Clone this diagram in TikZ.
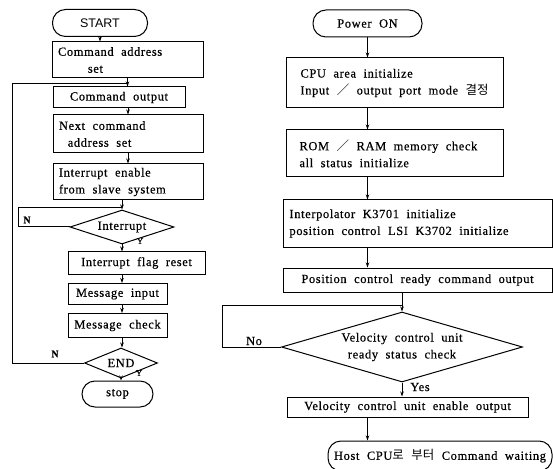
\documentclass[tikz,border=0pt]{standalone}
\usepackage{fontspec}
\setmainfont{Liberation Serif}[LetterSpace=5, FakeBold=0.5]
\newfontfamily\krfont{Noto Sans CJK KR}
\newfontfamily\capfont{Liberation Sans}
\newcommand\widesp{\spaceskip=7.5bp plus 1bp\relax}
\usetikzlibrary{arrows.meta,positioning,shapes.geometric}

\begin{document}
\begin{tikzpicture}[x=1bp, y=-1bp, line width=1bp,
    font=\fontsize{12.5}{17}\selectfont\widesp]
    \tikzset{procbox/.style={rectangle, draw, align=left, inner sep=2bp,
        execute at begin node=\widesp},
      termbox/.style={rectangle, rounded corners=13bp, draw, inner sep=2bp},
      decision/.style={diamond, draw, align=center, inner sep=0pt, shape aspect=3},
      flowline/.style={-{Stealth[length=5bp, width=3.5bp]}},
      flag/.style={inner sep=1bp}}
    \useasboundingbox (0,0) rectangle (553,469);

    % Left chart: command loop
    \node[termbox, minimum width=95bp, minimum height=27bp, font=\capfont\fontsize{12.5}{14}\selectfont]
      (start) at (100,23) {START};
    \node[procbox, minimum width=151bp, minimum height=36bp, text width=139bp] (cmdset) at (127.5,60)
      {Command address\\\hspace{2.4em}set};
    \node[procbox, minimum width=132bp, minimum height=21bp] (cmdout) at (119,97.5) {Command output};
    \node[procbox, minimum width=150bp, minimum height=38bp, text width=138bp] (nextcmd) at (128,134)
      {Next command\\\hspace{0.7em}address set};
    \node[procbox, minimum width=150bp, minimum height=36bp, text width=138bp] (intena) at (128,182)
      {Interrupt enable\\from slave system};
    \node[decision, minimum width=104bp, minimum height=34bp] (intdec) at (122,227) {Interrupt};
    \node[procbox, minimum width=137bp, minimum height=22bp] (flagrst) at (136.5,263) {Interrupt flag reset};
    \node[procbox, minimum width=99bp, minimum height=21bp] (msgin) at (117.5,294) {Message input};
    \node[procbox, minimum width=99bp, minimum height=24bp] (msgchk) at (117.5,325.5) {Message check};
    \node[decision, minimum width=73bp, minimum height=30bp] (enddec) at (121,363) {END};
    \node[termbox, minimum width=71bp, minimum height=26bp] (stop) at (117.5,394) {stop};

    \coordinate (mainloop) at (12,84);
    \coordinate (intloop) at (18,208);

    \draw[flowline] (start.south) -- (start.south |- cmdset.north);
    \draw[flowline] (cmdset.south) -- (cmdset.south |- cmdout.north);
    \draw[flowline] (nextcmd.south |- cmdout.south) -- (nextcmd.north);
    \draw[flowline] (nextcmd.south) -- (intena.north);
    \draw[flowline] (intdec.north |- intena.south) -- (intdec.north);
    \draw[flowline] (intdec.south) -- (intdec.south |- flagrst.north);
    \draw[flowline] (intdec.south |- flagrst.south) -- (intdec.south |- msgin.north);
    \draw[flowline] (intdec.south |- msgin.south) -- (intdec.south |- msgchk.north);
    \draw[flowline] (intdec.south |- msgchk.south) -- (intdec.south |- enddec.north);
    \draw[flowline] (enddec.south) -- (enddec.south |- stop.north);
    \draw (intdec.west) -| (intloop) -- (intloop -| intdec.north);
    \draw (enddec.west) -| (mainloop) -- (mainloop -| cmdset.south);

    \node[flag, font=\bfseries] (nint) at (27,220) {N};
    \node[flag, font=\bfseries] (nend) at (55,354) {N};
    \node[flag, font=\small] (yint) at (140,241) {Y};
    \node[flag, font=\small] (yend) at (139,373) {Y};

    % Right chart: power on sequence
    \node[termbox, minimum width=109bp, minimum height=27bp] (power) at (367.5,23.5) {Power ON};
    \node[procbox, minimum width=217bp, minimum height=50bp] (cpu) at (394.5,83)
      {CPU area initialize\\Input {\krfont ／} output port mode {\krfont 결정}};
    \node[procbox, minimum width=217bp, minimum height=47bp, text width=190bp] (rom) at (394.5,153.5)
      {ROM {\krfont ／} RAM memory check\\all status initialize};
    \node[procbox, minimum width=269bp, minimum height=47bp, text width=256bp] (interp) at (417.5,223.5)
      {Interpolator K3701 initialize\\position control LSI K3702 initialize};
    \node[procbox, minimum width=269bp, minimum height=24bp] (pos) at (417.5,280)
      {Position control ready command output};
    \node[decision, minimum width=241bp, minimum height=70bp] (veldec) at (402,347)
      {Velocity control unit\\ready status check};
    \node[procbox, minimum width=241bp, minimum height=20bp] (velout) at (407.5,407)
      {Velocity control unit enable output};
    \node[termbox, minimum width=224bp, minimum height=30bp] (host) at (440,456)
      {Host CPU{\krfont 로 부터} Command waiting};

    \coordinate (noloop) at (222,305);

    \draw[flowline] (power.south) -- (power.south |- cpu.north);
    \draw[flowline] (power.south |- cpu.south) -- (power.south |- rom.north);
    \draw[flowline] (power.south |- rom.south) -- (power.south |- interp.north);
    \draw[flowline] (power.south |- interp.south) -- (power.south |- pos.north);
    \draw[flowline] (veldec.north |- pos.south) -- (veldec.north);
    \draw[flowline] (veldec.south) -- (veldec.south |- velout.north);
    \draw[flowline] (power.south |- velout.south) -- (power.south |- host.north);
    \draw (veldec.west) -| (noloop) -- (noloop -| veldec.north);

    \node[flag] (nolbl) at (254,341) {No};
    \node[flag] (yeslbl) at (420,387) {Yes};
\end{tikzpicture}
\end{document}
